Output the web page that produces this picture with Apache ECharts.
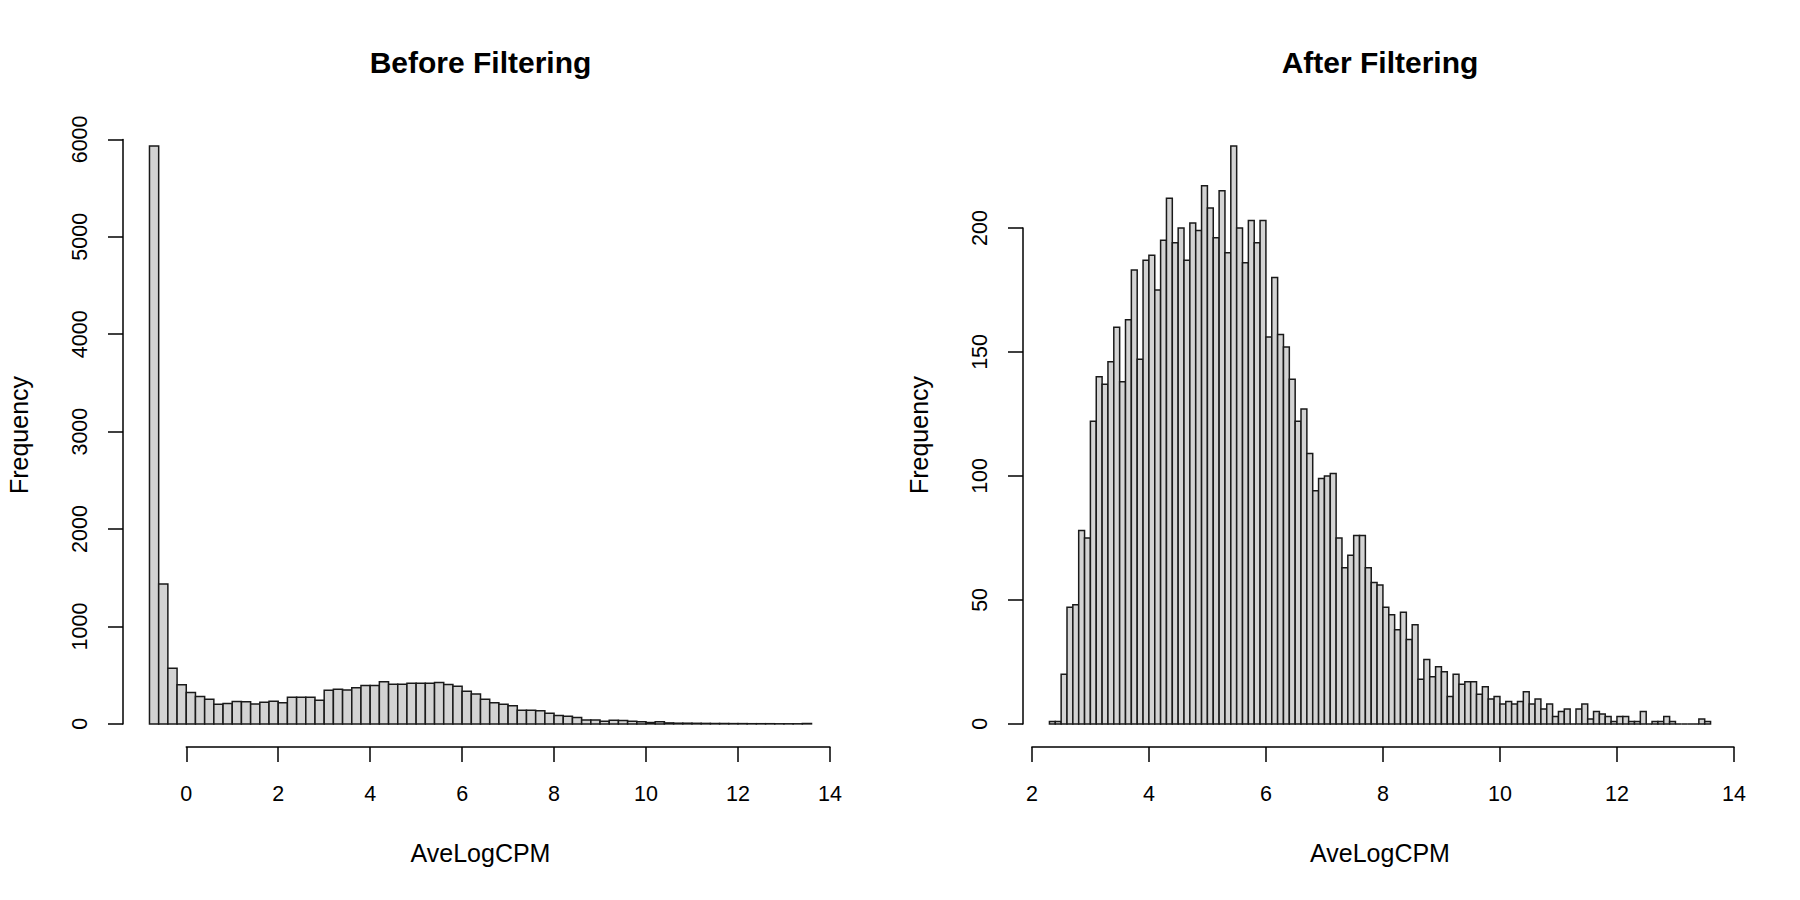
<!DOCTYPE html>
<html>
<head>
<meta charset="utf-8">
<script src="https://cdn.jsdelivr.net/npm/echarts@6/dist/echarts.min.js"></script>
<style>
html,body{margin:0;padding:0;background:#ffffff;}
#chart{width:1800px;height:900px;}
</style>
</head>
<body>
<div id="chart"></div>
<script>
// ---------------- data ----------------
const panelTitles = ['Before Filtering', 'After Filtering'];
const xTitle = 'AveLogCPM';
const yTitle = 'Frequency';

const beforeBinWidth = 0.2;
const beforeBinStart = [-0.8,-0.6,-0.4,-0.2,0,0.2,0.4,0.6,0.8,1,1.2,1.4,1.6,1.8,2,2.2,2.4,2.6,2.8,3,
  3.2,3.4,3.6,3.8,4,4.2,4.4,4.6,4.8,5,5.2,5.4,5.6,5.8,6,6.2,6.4,6.6,6.8,7,7.2,7.4,7.6,7.8,8,8.2,8.4,8.6,
  8.8,9,9.2,9.4,9.6,9.8,10,10.2,10.4,10.6,10.8,11,11.2,11.4,11.6,11.8,12,12.2,12.4,12.6,12.8,13,13.2,13.4];
const beforeCounts = [5931,1435,572,401,322,281,253,202,209,229,226,205,223,233,216,274,274,274,243,346,
  356,349,370,394,394,432,408,408,418,418,418,425,404,387,336,308,253,218,202,185,140,140,134,110,86,79,65,41,
  41,27,38,34,27,21,14,21,10,7,7,6,5,4,4,3,3,2,2,2,1,1,1,4];

const afterBinWidth = 0.1;
const afterBinStart = [2.3,2.4,2.5,2.6,2.7,2.8,2.9,3,3.1,3.2,3.3,3.4,3.5,3.6,3.7,3.8,3.9,4,4.1,4.2,
  4.3,4.4,4.5,4.6,4.7,4.8,4.9,5,5.1,5.2,5.3,5.4,5.5,5.6,5.7,5.8,5.9,6,6.1,6.2,6.3,6.4,6.5,6.6,6.7,6.8,6.9,
  7,7.1,7.2,7.3,7.4,7.5,7.6,7.7,7.8,7.9,8,8.1,8.2,8.3,8.4,8.5,8.6,8.7,8.8,8.9,9,9.1,9.2,9.3,9.4,9.5,9.6,
  9.7,9.8,9.9,10,10.1,10.2,10.3,10.4,10.5,10.6,10.7,10.8,10.9,11,11.1,11.2,11.3,11.4,11.5,11.6,11.7,11.8,
  11.9,12,12.1,12.2,12.3,12.4,12.5,12.6,12.7,12.8,12.9,13,13.1,13.2,13.3,13.4,13.5];
const afterCounts = [1,1,20,47,48,78,75,122,140,137,146,160,138,163,183,147,187,189,175,195,
  212,194,200,187,202,199,217,208,196,215,190,233,200,186,203,194,203,156,180,157,
  152,139,122,127,109,94,99,100,101,75,63,68,76,76,63,57,56,47,44,38,
  45,34,40,18,26,19,23,21,11,20,16,17,17,12,15,10,11,8,9,8,
  9,13,8,10,6,8,3,5,6,0,6,8,2,5,4,3,1,3,3,1,
  1,5,0,1,1,3,1,0,0,0,0,2,1];

const beforeXTicks = [0,2,4,6,8,10,12,14];
const beforeYTicks = [0,1000,2000,3000,4000,5000,6000];
const afterXTicks = [2,4,6,8,10,12,14];
const afterYTicks = [0,50,100,150,200];

// ---------------- style / layout ----------------
const FONT = '"Liberation Sans", Arial, Helvetica, sans-serif';
const INK = '#000000';
const LW = 1.5;
const plotTop = 123, plotBottom = 153;
const titleNudge = -5;
const panels = [
  {left: 123, width: 715, start: beforeBinStart, w: beforeBinWidth, counts: beforeCounts, xt: beforeXTicks, yt: beforeYTicks},
  {left: 1023, width: 714, start: afterBinStart, w: afterBinWidth, counts: afterCounts, xt: afterXTicks, yt: afterYTicks}
];

function rangeExt(lo, hi) { const d = (hi - lo) * 0.04; return [lo - d, hi + d]; }

function histItem(params, api) {
  const x0 = api.value(0), x1 = api.value(1), c = api.value(2);
  const pTop = api.coord([x0, c]);
  const pBot = api.coord([x1, 0]);
  return {
    type: 'rect',
    shape: {x: pTop[0], y: pTop[1], width: pBot[0] - pTop[0], height: pBot[1] - pTop[1]},
    style: {fill: '#d3d3d3', stroke: '#1a1a1a', lineWidth: LW}
  };
}

const hiddenParts = {
  axisLine: {show: false}, axisTick: {show: false}, axisLabel: {show: false}, splitLine: {show: false}
};

function baseOption() {
  const grid = [], xAxis = [], yAxis = [], series = [];
  panels.forEach((p, i) => {
    const xr = rangeExt(p.start[0], p.start[p.start.length - 1] + p.w);
    const yr = rangeExt(0, Math.max.apply(null, p.counts));
    p.xr = xr; p.yr = yr;
    grid.push({left: p.left, width: p.width, top: plotTop, bottom: plotBottom});
    xAxis.push(Object.assign({
      type: 'value', gridIndex: i, min: xr[0], max: xr[1], position: 'bottom',
      name: xTitle, nameLocation: 'middle', nameGap: 93,
      nameTextStyle: {fontSize: 25, color: INK, fontFamily: FONT}
    }, hiddenParts));
    yAxis.push(Object.assign({
      type: 'value', gridIndex: i, min: yr[0], max: yr[1], position: 'left',
      name: yTitle, nameLocation: 'middle', nameGap: 92, nameRotate: 90,
      nameTextStyle: {fontSize: 25, color: INK, fontFamily: FONT}
    }, hiddenParts));
    series.push({
      type: 'custom', xAxisIndex: i, yAxisIndex: i, renderItem: histItem,
      encode: {x: [0, 1], y: 2}, silent: true, animation: false,
      data: p.start.map((s, k) => [s, s + p.w, p.counts[k]])
    });
  });
  return {animation: false, backgroundColor: '#ffffff', grid, xAxis, yAxis, series};
}

const chart = echarts.init(document.getElementById('chart'), null, {renderer: 'svg'});
const opt = baseOption();
chart.setOption(opt);

// add R-style axes, positioned from the plot scales
const title = [];
panels.forEach((p, i) => {
  const xs = p.xt, ys = p.yt;
  const pxLo = chart.convertToPixel({gridIndex: i}, [xs[0], 0]);
  const pxHi = chart.convertToPixel({gridIndex: i}, [xs[xs.length - 1], 0]);
  const pyLo = chart.convertToPixel({gridIndex: i}, [p.xr[0], ys[0]]);
  const pyHi = chart.convertToPixel({gridIndex: i}, [p.xr[0], ys[ys.length - 1]]);
  const bottomPx = chart.convertToPixel({gridIndex: i}, [p.xr[0], p.yr[0]])[1];
  const leftPx = pyLo[0];

  // x axis grid
  const gx = opt.grid.length;
  opt.grid.push({left: pxLo[0], width: pxHi[0] - pxLo[0], top: bottomPx - 1, height: 1});
  opt.xAxis.push({
    type: 'value', gridIndex: gx, position: 'bottom', min: xs[0], max: xs[xs.length - 1], interval: xs[1] - xs[0],
    axisLine: {show: true, lineStyle: {color: INK, width: LW}},
    axisTick: {show: true, length: 15, lineStyle: {color: INK, width: LW}},
    axisLabel: {show: true, margin: 36, fontSize: 21.5, color: INK, fontFamily: FONT, formatter: v => String(v)},
    splitLine: {show: false}
  });
  opt.yAxis.push({type: 'value', gridIndex: gx, min: 0, max: 1, show: false});

  // y axis grid
  const gy = opt.grid.length;
  opt.grid.push({left: leftPx, width: 1, top: pyHi[1], height: pyLo[1] - pyHi[1]});
  opt.xAxis.push({type: 'value', gridIndex: gy, min: 0, max: 1, show: false});
  opt.yAxis.push({
    type: 'value', gridIndex: gy, position: 'left', min: ys[0], max: ys[ys.length - 1], interval: ys[1] - ys[0],
    axisLine: {show: true, lineStyle: {color: INK, width: LW}},
    axisTick: {show: true, length: 15, lineStyle: {color: INK, width: LW}},
    axisLabel: {show: true, rotate: 90, margin: 32, fontSize: 21.5, color: INK, fontFamily: FONT, formatter: v => String(v)},
    splitLine: {show: false}
  });

  title.push({
    text: panelTitles[i], left: p.left + p.width / 2 + titleNudge, top: 42, textAlign: 'center',
    textStyle: {fontSize: 30, fontWeight: 'bold', color: INK, fontFamily: FONT}
  });
});
opt.title = title;
chart.setOption(opt, true);
</script>
</body>
</html>
